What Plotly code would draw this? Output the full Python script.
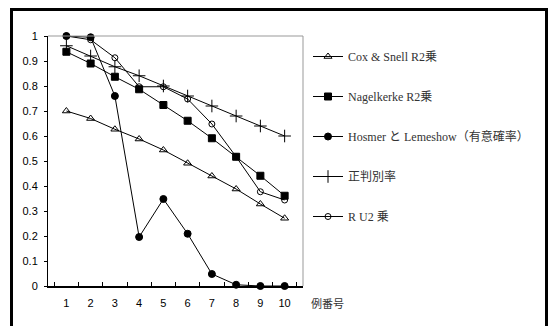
import plotly.graph_objects as go

categories = ["1", "2", "3", "4", "5", "6", "7", "8", "9", "10"]
cox_snell = [0.70, 0.67, 0.627, 0.588, 0.544, 0.491, 0.44, 0.388, 0.328, 0.271]
nagelkerke = [0.937, 0.89, 0.837, 0.787, 0.724, 0.661, 0.591, 0.517, 0.441, 0.361]
hosmer = [1.0, 0.995, 0.76, 0.196, 0.348, 0.209, 0.048, 0.005, 0.0, 0.0]
seihanbetsu = [0.961, 0.92, 0.877, 0.841, 0.80, 0.76, 0.72, 0.68, 0.64, 0.60]
ru2 = [1.0, 0.985, 0.913, 0.797, 0.797, 0.748, 0.648, 0.517, 0.377, 0.344]

names = ["Cox & Snell R2乗", "Nagelkerke R2乗", "Hosmer と Lemeshow（有意確率）", "正判別率", "R U2 乗"]
series = [cox_snell, nagelkerke, hosmer, seihanbetsu, ru2]
symbols = ["triangle-up-open", "square", "circle", "cross-thin-open", "circle-open"]
sizes = [7, 7, 7, 9, 6]

W, H = 551, 326
L, R, T, B = 48, 303, 36, 286

fig = go.Figure()
for i, (n, s, sym, sz) in enumerate(zip(names, series, symbols, sizes)):
    fig.add_trace(go.Scatter(
        x=categories, y=s, name=n, mode="lines+markers",
        line=dict(color="black", width=1),
        marker=dict(symbol=sym, size=sz, color="black", line=dict(color="black", width=1)),
        cliponaxis=False, legendgroup=str(i),
    ))

def px_x(px):
    return (px - L) / (R - L)

def px_y(py):
    return (B - py) / (B - T)

border = dict(color="black", width=3)
fig.update_layout(
    width=W, height=H,
    margin=dict(l=L, r=W - R, t=T, b=H - B, pad=0),
    paper_bgcolor="white", plot_bgcolor="white",
    showlegend=True,
    legend=dict(
        x=px_x(308), y=px_y(42), xanchor="left", yanchor="top",
        font=dict(family="Liberation Serif, Noto Sans CJK JP", size=12, color="#333"),
        tracegroupgap=21, bgcolor="rgba(0,0,0,0)", itemwidth=30, maxheight=280,
    ),
    font=dict(family="Liberation Sans, Arial, sans-serif", size=11, color="black"),
    xaxis=dict(
        type="category", showgrid=False, zeroline=False,
        showline=True, linecolor="black", linewidth=2,
        ticks="inside", tickson="boundaries", ticklen=4, tickcolor="black",
        tickfont=dict(size=11), ticklabelstandoff=6,
    ),
    yaxis=dict(
        range=[0, 1], dtick=0.1, showgrid=False, zeroline=False,
        showline=True, linecolor="black", linewidth=1,
        ticks="outside", ticklen=3, tickcolor="black",
        tickfont=dict(size=11), ticklabelstandoff=4,
    ),
    shapes=[
        dict(type="line", xref="paper", yref="paper", x0=0, x1=1, y0=1, y1=1,
             line=dict(color="#999", width=1)),
        dict(type="line", xref="paper", yref="paper", x0=1, x1=1, y0=0, y1=1,
             line=dict(color="#999", width=1)),
        dict(type="line", xref="paper", yref="paper", x0=px_x(10), x1=px_x(548),
             y0=px_y(9.5), y1=px_y(9.5), line=border),
        dict(type="line", xref="paper", yref="paper", x0=px_x(11.5), x1=px_x(11.5),
             y0=px_y(8), y1=px_y(330), line=border),
        dict(type="line", xref="paper", yref="paper", x0=px_x(546.5), x1=px_x(546.5),
             y0=px_y(8), y1=px_y(330), line=border),
    ],
    annotations=[
        dict(text="例番号", xref="paper", yref="paper", x=px_x(309), y=px_y(303),
             xanchor="left", yanchor="middle", showarrow=False,
             font=dict(family="Noto Sans CJK JP", size=11, color="#333")),
    ],
)

fig.write_html("out.html", config={"displayModeBar": False},
               post_script="document.body.style.margin='0';document.body.style.overflow='hidden';")
